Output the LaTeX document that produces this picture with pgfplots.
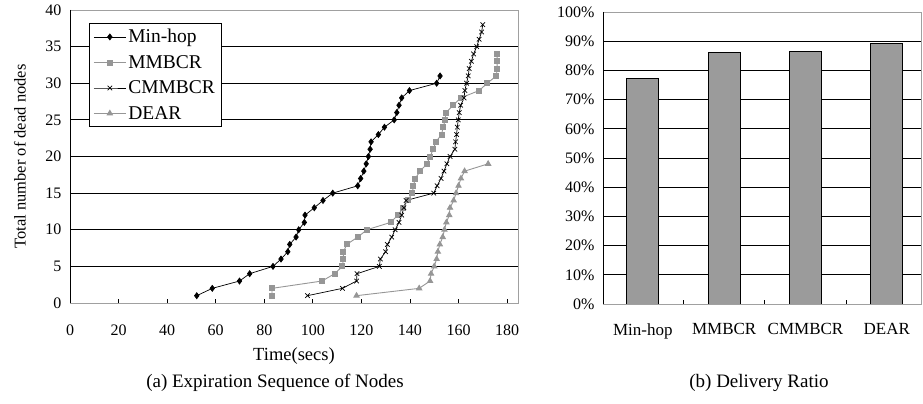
\documentclass[border=0pt]{standalone}
\usepackage{fontspec}
\setmainfont{Liberation Serif}
\usepackage{pgfplots}
\pgfplotsset{compat=1.18}
\definecolor{lgray}{RGB}{150,150,150}
\definecolor{bargray}{RGB}{155,155,155}
\definecolor{bordergray}{RGB}{160,160,160}

\pgfplotstableread{
x y
52.2 1
58.6 2
69.8 3
74.0 4
83.6 5
86.9 6
89.7 7
90.5 8
93.1 9
94.2 10
96.5 11
96.8 12
100.6 13
104.2 14
108.2 15
118.5 16
119.7 17
121.0 18
122.0 19
122.9 20
123.6 21
124.0 22
127.0 23
129.5 24
133.5 25
134.6 26
135.5 27
136.6 28
139.8 29
151.0 30
152.4 31
}\minhop

\pgfplotstableread{
x y
83.2 1
83.2 2
103.8 3
109.0 4
112.2 5
112.6 6
112.6 7
114.0 8
118.5 9
122.3 10
132.0 11
135.0 12
137.3 13
139.0 14
141.0 15
141.4 16
142.2 17
144.2 18
147.0 19
148.3 20
149.6 21
150.7 22
153.0 23
153.7 24
154.5 25
154.8 26
157.8 27
160.9 28
168.5 29
171.8 30
175.6 31
175.9 32
175.9 33
175.9 34
}\mmbcr

\pgfplotstableread{
x y
97.8 1
112.2 2
118.0 3
118.2 4
127.4 5
127.8 6
130.0 7
130.7 8
132.5 9
133.9 10
135.5 11
136.6 12
137.5 13
138.4 14
149.8 15
151.2 16
152.8 17
154.0 18
155.2 19
156.5 20
158.5 21
158.8 22
159.2 23
159.5 24
159.9 25
160.3 26
160.9 27
162.3 28
162.6 29
163.3 30
164.0 31
164.4 32
165.3 33
166.2 34
167.5 35
168.5 36
169.5 37
170.0 38
}\cmmbcr

\pgfplotstableread{
x y
118.0 1
143.8 2
148.3 3
148.7 4
150.0 5
151.0 6
151.5 7
152.3 8
153.5 9
154.2 10
155.0 11
156.2 12
156.5 13
158.0 14
159.0 15
160.0 16
161.0 17
162.5 18
172.2 19
}\dear

\begin{document}
\begin{tikzpicture}
\path[use as bounding box] (0,0) rectangle (923bp,404bp);
\begin{axis}[
  at={(70bp,101bp)}, anchor=south west,
  width=448bp, height=293bp, scale only axis,
  xmin=0, xmax=184.5, ymin=0, ymax=40,
  xtick={0,20,...,180}, ytick={0,5,...,40},
  tick pos=left, tick align=inside, major tick length=4bp,
  ytick style={draw=none}, xtick style={black, line width=0.8bp},
  ymajorgrids, major grid style={black, line width=0.9bp},
  axis line style={bordergray, line width=0.8bp},
  /pgf/number format/assume math mode=true,
  ticklabel style={font=\fontsize{16bp}{18bp}\selectfont},
  xticklabel style={yshift=-18bp},
  yticklabel style={xshift=-5bp},
  xlabel={Time(secs)}, ylabel={Total number of dead nodes},
  xlabel style={font=\fontsize{18.5bp}{21bp}\selectfont, at={(axis description cs:0.5,-0.181)}, anchor=center},
  ylabel style={font=\fontsize{16.5bp}{19bp}\selectfont, at={(axis description cs:-0.1116,0.5)}, anchor=center},
  legend style={at={(axis description cs:0.0424,0.9556)}, anchor=north west,
    draw=black, line width=0.8bp, fill=white, inner xsep=4bp, inner ysep=4bp,
    row sep=7bp, font=\fontsize{19.5bp}{22bp}\selectfont,
    /tikz/every even column/.append style={column sep=4bp}},
  legend cell align=left,
  legend image code/.code={\draw[mark repeat=2, mark phase=2, #1] plot coordinates {(0bp,0bp) (16bp,0bp) (32bp,0bp)};},
]
\addplot[black, line width=0.7bp, mark=diamond*, mark size=3bp, mark options={solid, fill=black}] table {\minhop};
\addlegendentry{Min-hop}
\addplot[lgray, line width=0.9bp, mark=square*, mark size=2.5bp, mark options={solid, fill=lgray}] table {\mmbcr};
\addlegendentry{MMBCR}
\addplot[black, line width=0.7bp, mark=x, mark size=3.2bp, mark options={solid}] table {\cmmbcr};
\addlegendentry{CMMBCR}
\addplot[lgray, line width=0.9bp, mark=triangle*, mark size=3bp, mark options={solid, fill=lgray}] table {\dear};
\addlegendentry{DEAR}
\draw[black, line width=0.9bp] (rel axis cs:0,1) -- (rel axis cs:0,0) -- (rel axis cs:1,0);
\end{axis}

\begin{axis}[
  at={(603bp,100bp)}, anchor=south west,
  width=318bp, height=292bp, scale only axis,
  xmin=-0.49, xmax=3.42, ymin=0, ymax=100,
  ytick={0,10,...,100},
  yticklabel={\pgfmathprintnumber{\tick}\%},
  xtick={0,1,2,3}, xticklabels={Min-hop,MMBCR,CMMBCR,DEAR},
  tick pos=left, major tick length=0bp,
  ymajorgrids, major grid style={black, line width=0.9bp},
  axis line style={bordergray, line width=0.8bp},
  /pgf/number format/assume math mode=true,
  ticklabel style={font=\fontsize{16bp}{18bp}\selectfont},
  xticklabel style={font=\fontsize{17bp}{19bp}\selectfont, yshift=-16bp},
  yticklabel style={xshift=-5bp},
  ybar, bar width=32bp,
]
\addplot[fill=bargray, draw=black, line width=0.8bp] coordinates {(0,77.3) (1,86.2) (2,86.6) (3,89.3)};
\draw[black, line width=0.9bp] (rel axis cs:0,1) -- (rel axis cs:0,0) -- (rel axis cs:1,0);
\draw[black, line width=0.8bp] (axis cs:0.5,0) -- (axis cs:0.5,1.4);
\draw[black, line width=0.8bp] (axis cs:1.5,0) -- (axis cs:1.5,1.4);
\draw[black, line width=0.8bp] (axis cs:2.5,0) -- (axis cs:2.5,1.4);
\end{axis}

\node[font=\fontsize{19bp}{21bp}\selectfont] at (275bp,21bp) {(a) Expiration Sequence of Nodes};
\node[font=\fontsize{19bp}{21bp}\selectfont] at (759bp,21bp) {(b) Delivery Ratio};
\end{tikzpicture}
\end{document}
